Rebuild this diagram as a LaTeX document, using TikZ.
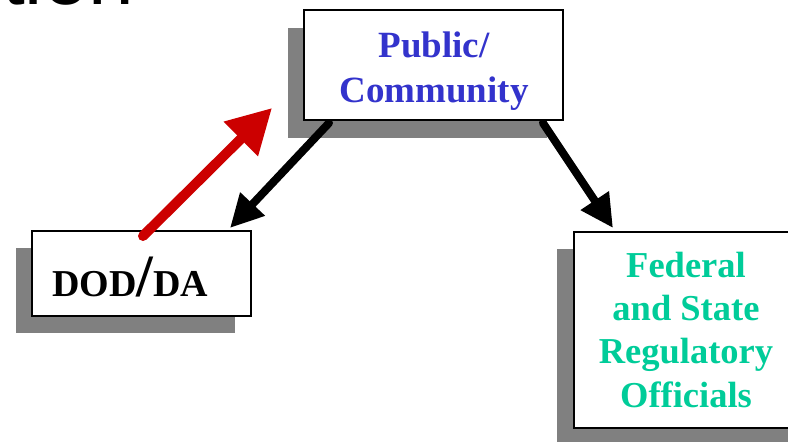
\documentclass[tikz,border=0pt]{standalone}
\usepackage{fontspec}
\setmainfont{Liberation Serif}
\newfontfamily\titlefont{Liberation Sans}
\usetikzlibrary{arrows.meta}
\definecolor{pubblue}{RGB}{51,51,204}
\definecolor{fedgreen}{RGB}{0,204,153}
\definecolor{arrred}{RGB}{204,0,0}
\definecolor{shadowgray}{RGB}{128,128,128}
\tikzset{
  box/.style={draw=black, fill=white, line width=1.6pt, inner sep=0pt},
  shadowbox/.style={fill=shadowgray},
  pubtext/.style={anchor=base, inner sep=0pt, text=pubblue, font=\bfseries\fontsize{37}{44}\selectfont},
  fedtext/.style={anchor=base, inner sep=0pt, text=fedgreen, font=\bfseries\fontsize{36.5}{43}\selectfont},
  redarrow/.style={draw=arrred, line width=10pt, line cap=round, -{Triangle[length=44pt,width=46pt]}},
  blackarrow/.style={draw=black, line width=8pt, line cap=round, -{Triangle[length=33pt,width=32pt]}}
}
\begin{document}
\begin{tikzpicture}[x=1pt,y=-1pt]
\useasboundingbox (0,0) rectangle (788,442);
% title remnant
\node[anchor=base west, inner sep=0pt, font=\titlefont\fontsize{82}{82}\selectfont] (title) at (2,4) {tion};
% Public/Community
\fill[shadowgray] (288,28) rectangle (547,138);
\node[box, minimum width=259pt, minimum height=110pt] (pub) at (433.5,65) {};
\node[pubtext] (pub1) at (434,57) {Public/};
\node[pubtext] (pub2) at (434,102) {Community};
% DOD/DA
\fill[shadowgray] (16,248) rectangle (235,333);
\node[box, minimum width=219pt, minimum height=85pt] (dod) at (141.5,273.5) {};
\node[anchor=base west, inner sep=0pt, font=\bfseries] (dodtxt) at (52,296)
  {\fontsize{38}{40}\selectfont DOD\fontsize{60}{60}\selectfont/\fontsize{38}{40}\selectfont DA};
% Federal and State Regulatory Officials
\fill[shadowgray] (557,249) rectangle (790,450);
\node[box, minimum width=226pt, minimum height=196pt] (fed) at (687,330) {};
\node[fedtext] (fed1) at (686,277) {Federal};
\node[fedtext] (fed2) at (686,320.5) {and State};
\node[fedtext] (fed3) at (686,363.5) {Regulatory};
\node[fedtext] (fed4) at (686,407) {Officials};
% connector end points
\coordinate (redstart) at (143,236);
\coordinate (redend) at (272,108);
\coordinate (b1start) at (329,123);
\coordinate (b1end) at (230,228);
\coordinate (b2start) at (543,123);
\coordinate (b2end) at (613,228);
% arrows
\draw[redarrow] (redstart) -- (redend);
\draw[blackarrow] (b1start) -- (b1end);
\draw[blackarrow] (b2start) -- (b2end);
\end{tikzpicture}
\end{document}
